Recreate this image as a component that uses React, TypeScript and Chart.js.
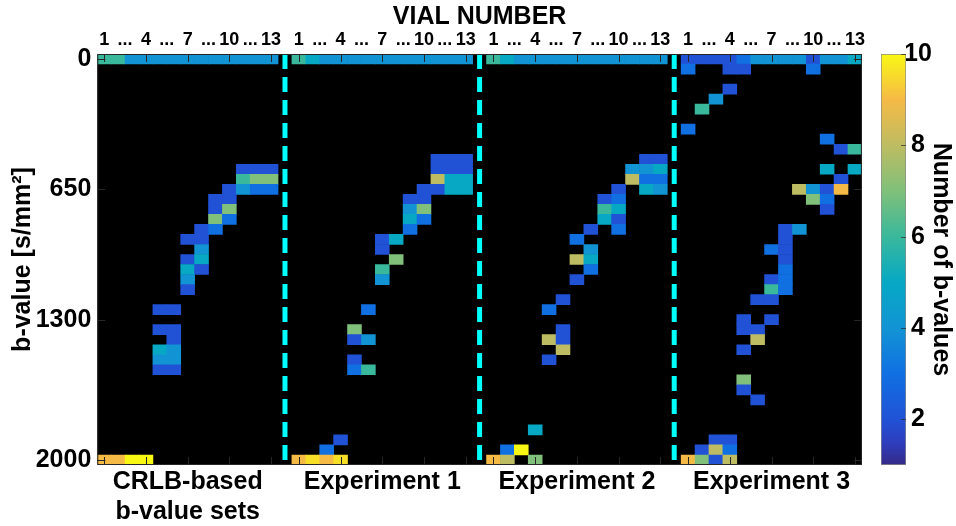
import React, { useEffect, useRef } from 'react';
import { Chart, registerables } from 'chart.js';

Chart.register(...registerables);

// ---------------- data ----------------
const panelLabels: (string | string[])[] = [['CRLB-based', 'b-value sets'], 'Experiment 1', 'Experiment 2', 'Experiment 3'];
const vialCount = 13;
const vialTickLabels = ['1', '...', '4', '...', '7', '...', '10', '...', '13'];
const vialTickPositions = [1, 2.5, 4, 5.5, 7, 8.5, 10, 11.5, 13];
const vialMarkPositions = [1, 4, 7, 10, 13];
const bValueTicks = [0, 650, 1300, 2000];
const bValueBin = 50;
const bValueMin = 0;
const bValueMax = 2000;
const countTicks = [2, 4, 6, 8, 10];
const countMin = 1;
const countMax = 10;

// [vial, b-value, number of b-values]
const crlbCells: number[][] = [
  [1, 0, 6], [2, 0, 6], [3, 0, 4], [4, 0, 4], [5, 0, 4], [6, 0, 4], [7, 0, 4], [8, 0, 4], [9, 0, 4], [10, 0, 4], [11, 0, 4], [12, 0, 4], [13, 0, 4],
  [11, 550, 2], [12, 550, 2], [13, 550, 2],
  [11, 600, 6], [12, 600, 7], [13, 600, 7],
  [10, 650, 2], [11, 650, 4], [12, 650, 3], [13, 650, 3],
  [9, 700, 2], [10, 700, 2],
  [9, 750, 2], [10, 750, 7],
  [9, 800, 7], [10, 800, 3],
  [8, 850, 2], [9, 850, 3],
  [7, 900, 2], [8, 900, 2],
  [8, 950, 4],
  [7, 1000, 2], [8, 1000, 5],
  [7, 1050, 5], [8, 1050, 2],
  [7, 1100, 4],
  [7, 1150, 2],
  [5, 1250, 2], [6, 1250, 2],
  [5, 1350, 2], [6, 1350, 2],
  [6, 1400, 2],
  [5, 1450, 5], [6, 1450, 4],
  [5, 1500, 4], [6, 1500, 4],
  [5, 1550, 2], [6, 1550, 2],
  [1, 2000, 9], [2, 2000, 9], [3, 2000, 10], [4, 2000, 10],
];

const exp1Cells: number[][] = [
  [1, 0, 6], [2, 0, 5], [3, 0, 4], [4, 0, 4], [5, 0, 4], [6, 0, 4], [7, 0, 4], [8, 0, 4], [9, 0, 4], [10, 0, 4], [11, 0, 4], [12, 0, 4], [13, 0, 4],
  [11, 500, 2], [12, 500, 2], [13, 500, 2],
  [11, 550, 2], [12, 550, 2], [13, 550, 2],
  [11, 600, 8], [12, 600, 5], [13, 600, 5],
  [10, 650, 2], [11, 650, 2], [12, 650, 5], [13, 650, 5],
  [9, 700, 2], [10, 700, 2],
  [9, 750, 4], [10, 750, 7],
  [9, 800, 5], [10, 800, 3],
  [9, 850, 3],
  [7, 900, 2], [8, 900, 5],
  [7, 950, 2],
  [8, 1000, 7],
  [7, 1050, 6],
  [7, 1100, 4],
  [6, 1250, 3],
  [5, 1350, 7],
  [5, 1400, 2], [6, 1400, 4],
  [5, 1500, 2],
  [5, 1550, 3], [6, 1550, 6],
  [4, 1900, 2],
  [3, 1950, 3],
  [1, 2000, 9], [2, 2000, 9.6], [3, 2000, 9], [4, 2000, 9.6],
];

const exp2Cells: number[][] = [
  [1, 0, 6], [2, 0, 5], [3, 0, 4], [4, 0, 4], [5, 0, 4], [6, 0, 4], [7, 0, 4], [8, 0, 4], [9, 0, 4], [10, 0, 4], [11, 0, 4], [12, 0, 4], [13, 0, 4],
  [12, 500, 2], [13, 500, 2],
  [11, 550, 4], [12, 550, 4], [13, 550, 5],
  [11, 600, 8], [12, 600, 3], [13, 600, 3],
  [10, 650, 2], [12, 650, 5], [13, 650, 4],
  [9, 700, 2], [10, 700, 3],
  [9, 750, 6], [10, 750, 5],
  [9, 800, 5], [10, 800, 2],
  [8, 850, 2], [10, 850, 3],
  [7, 900, 3],
  [8, 950, 4],
  [7, 1000, 8], [8, 1000, 5],
  [8, 1050, 3],
  [7, 1100, 2],
  [6, 1200, 2],
  [5, 1250, 3],
  [6, 1350, 2],
  [5, 1400, 8], [6, 1400, 2],
  [6, 1450, 8],
  [5, 1500, 2],
  [4, 1850, 5],
  [2, 1950, 3], [3, 1950, 10],
  [1, 2000, 9], [2, 2000, 8], [4, 2000, 7],
];

const exp3Cells: number[][] = [
  [1, 0, 2], [2, 0, 2], [3, 0, 2], [4, 0, 2], [5, 0, 3], [6, 0, 4], [7, 0, 4], [8, 0, 4], [9, 0, 4], [10, 0, 2], [11, 0, 4], [12, 0, 4], [13, 0, 5],
  [1, 50, 3], [4, 50, 2], [5, 50, 2], [10, 50, 3],
  [4, 150, 2],
  [3, 200, 4],
  [2, 250, 6],
  [1, 350, 3],
  [11, 400, 3],
  [12, 450, 2], [13, 450, 6],
  [11, 550, 5], [13, 550, 5],
  [12, 600, 2],
  [9, 650, 8], [10, 650, 4], [11, 650, 2], [12, 650, 9],
  [10, 700, 7], [11, 700, 3],
  [11, 750, 2],
  [8, 850, 2], [9, 850, 4],
  [8, 900, 2],
  [7, 950, 3], [8, 950, 2],
  [8, 1000, 2],
  [8, 1050, 3],
  [7, 1100, 2], [8, 1100, 3],
  [7, 1150, 6], [8, 1150, 3],
  [6, 1200, 2], [7, 1200, 2],
  [5, 1300, 2], [7, 1300, 2],
  [5, 1350, 2], [6, 1350, 2],
  [6, 1400, 8],
  [5, 1450, 2],
  [5, 1600, 7],
  [5, 1650, 2],
  [6, 1700, 2],
  [3, 1900, 2], [4, 1900, 2],
  [2, 1950, 2], [3, 1950, 8], [4, 1950, 3],
  [1, 2000, 9], [2, 2000, 7], [3, 2000, 2], [4, 2000, 8],
];

const panels = [crlbCells, exp1Cells, exp2Cells, exp3Cells];

// ---------------- styling ----------------
const FONT = "'Liberation Sans', Arial, Helvetica, sans-serif";
const bold = (size: number) => ({ family: FONT, size, weight: 'bold' as const });

// parula-like colormap stops [value, rgb]
const colormap: [number, number[]][] = [
  [1, [53, 42, 135]],
  [1.5, [45, 62, 190]],
  [2, [33, 82, 214]],
  [3, [16, 112, 226]],
  [4, [18, 148, 212]],
  [5, [6, 168, 196]],
  [6, [58, 184, 156]],
  [7, [128, 192, 122]],
  [8, [190, 188, 98]],
  [9, [245, 186, 70]],
  [10, [249, 248, 20]],
];

function colorFor(v: number): string {
  if (v <= colormap[0][0]) return `rgb(${colormap[0][1].join(',')})`;
  for (let i = 1; i < colormap.length; i++) {
    const [v1, c1] = colormap[i];
    const [v0, c0] = colormap[i - 1];
    if (v <= v1) {
      const t = (v - v0) / (v1 - v0);
      const c = c0.map((a, k) => Math.round(a + (c1[k] - a) * t));
      return `rgb(${c.join(',')})`;
    }
  }
  return `rgb(${colormap[colormap.length - 1][1].join(',')})`;
}

const colsPerPanel = vialCount + 1; // one spacer column between panels
const totalCols = panels.length * colsPerPanel - 1;
const colOf = (panel: number, vial: number) => panel * colsPerPanel + vial - 1;

export default function App() {
  const mainRef = useRef<HTMLCanvasElement | null>(null);
  const barRef = useRef<HTMLCanvasElement | null>(null);

  useEffect(() => {
    const cells = panels.flatMap((list, p) =>
      list.map(([vial, b, n]) => ({ x: colOf(p, vial), y: [b - bValueBin / 2, b + bValueBin / 2], n }))
    );
    const separators = panels.slice(1).map((_, i) => colOf(i, vialCount + 1));
    const yLo = bValueMin - bValueBin / 2;
    const yHi = bValueMax + bValueBin / 2;

    const topTicks: number[] = [];
    const topLabels: string[] = [];
    panels.forEach((_, p) => {
      vialTickPositions.forEach((v, i) => {
        topTicks.push(colOf(p, v));
        topLabels.push(vialTickLabels[i]);
      });
    });
    const bottomTicks = panels.map((_, p) => colOf(p, (vialCount + 1) / 2));

    const framePlugin = {
      id: 'frame',
      beforeDatasetsDraw(chart: any) {
        const { ctx, chartArea: a } = chart;
        ctx.save();
        ctx.fillStyle = '#000';
        ctx.fillRect(a.left, a.top, a.right - a.left, a.bottom - a.top);
        ctx.restore();
      },
      afterDatasetsDraw(chart: any) {
        const { ctx, chartArea: a, scales } = chart;
        const x = scales.x;
        const y = scales.y;
        ctx.save();
        ctx.strokeStyle = '#262626';
        ctx.lineWidth = 1;
        ctx.beginPath();
        bValueTicks.forEach((b) => {
          const py = Math.round(y.getPixelForValue(b)) + 0.5;
          ctx.moveTo(a.left, py);
          ctx.lineTo(a.left + 8, py);
          ctx.moveTo(a.right - 8, py);
          ctx.lineTo(a.right, py);
        });
        panels.forEach((_, p) => {
          vialMarkPositions.forEach((v) => {
            const px = Math.round(x.getPixelForValue(colOf(p, v))) + 0.5;
            ctx.moveTo(px, a.top);
            ctx.lineTo(px, a.top + 8);
            ctx.moveTo(px, a.bottom - 8);
            ctx.lineTo(px, a.bottom);
          });
        });
        ctx.stroke();
        ctx.strokeRect(a.left + 0.5, a.top + 0.5, a.right - a.left - 1, a.bottom - a.top - 1);
        ctx.restore();
      },
    };

    const main = new Chart(mainRef.current as HTMLCanvasElement, {
      type: 'bar',
      data: {
        datasets: [
          {
            type: 'bar',
            data: cells as any,
            backgroundColor: (ctx: any) => colorFor(ctx.raw ? ctx.raw.n : countMin),
            borderWidth: 0,
            grouped: false,
            barPercentage: 1,
            categoryPercentage: 1,
            order: 2,
            xAxisID: 'x',
            yAxisID: 'y',
          } as any,
          ...separators.map((s) => ({
            type: 'line',
            data: [{ x: s, y: yLo }, { x: s, y: yHi }],
            borderColor: '#00ffff',
            borderWidth: 5,
            borderDash: [15, 8],
            pointRadius: 0,
            order: 1,
            xAxisID: 'x',
            yAxisID: 'y',
          } as any)),
        ],
      },
      options: {
        responsive: false,
        animation: false,
        events: [],
        layout: { padding: { left: 0, right: 5, top: 0, bottom: 0 } },
        plugins: { legend: { display: false }, tooltip: { enabled: false } },
        scales: {
          x: {
            type: 'linear',
            position: 'top',
            offset: false,
            min: -0.5,
            max: totalCols - 0.5,
            afterBuildTicks: (s: any) => { s.ticks = topTicks.map((v) => ({ value: v })); },
            afterFit: (s: any) => { s.height = 54; },
            ticks: {
              autoSkip: false,
              maxRotation: 0,
              minRotation: 0,
              padding: 3,
              color: '#000',
              font: bold(18),
              callback: (_v: any, i: number) => topLabels[i],
            },
            grid: { display: false, drawTicks: false, offset: false },
            border: { display: false },
            title: { display: true, text: 'VIAL NUMBER', color: '#000', font: bold(25), padding: { top: 2, bottom: 0 } },
          },
          x2: {
            type: 'linear',
            position: 'bottom',
            offset: false,
            min: -0.5,
            max: totalCols - 0.5,
            afterBuildTicks: (s: any) => { s.ticks = bottomTicks.map((v) => ({ value: v })); },
            afterFit: (s: any) => { s.height = 61; },
            ticks: {
              autoSkip: false,
              maxRotation: 0,
              minRotation: 0,
              padding: 2,
              color: '#000',
              font: bold(25),
              callback: (_v: any, i: number) => panelLabels[i] as any,
            },
            grid: { display: false, drawTicks: false, offset: false },
            border: { display: false },
          },
          y: {
            type: 'linear',
            reverse: true,
            min: yLo,
            max: yHi,
            afterBuildTicks: (s: any) => { s.ticks = bValueTicks.map((v) => ({ value: v })); },
            afterFit: (s: any) => { s.width = 97.3; },
            ticks: { autoSkip: false, padding: 6, color: '#000', font: bold(25), callback: (v: any) => String(v) },
            grid: { display: false, drawTicks: false },
            border: { display: false },
            title: { display: true, text: 'b-value [s/mm²]', color: '#000', font: bold(25), padding: { top: 8, bottom: 0 } },
          },
        } as any,
      },
      plugins: [framePlugin],
    });

    const barTicksPlugin = {
      id: 'cbticks',
      afterDatasetsDraw(chart: any) {
        const { ctx, chartArea: a, scales } = chart;
        ctx.save();
        ctx.strokeStyle = 'rgba(38,38,38,0.7)';
        ctx.lineWidth = 1;
        ctx.beginPath();
        countTicks.forEach((c) => {
          const py = Math.round(scales.y.getPixelForValue(c)) + 0.5;
          ctx.moveTo(a.right - 5, py);
          ctx.lineTo(a.right, py);
        });
        ctx.stroke();
        ctx.restore();
      },
    };

    const colorbar = new Chart(barRef.current as HTMLCanvasElement, {
      type: 'bar',
      data: {
        labels: [''],
        datasets: [
          {
            data: [[countMin, countMax]] as any,
            backgroundColor: (ctx: any) => {
              const chart = ctx.chart;
              const ys = chart.scales && chart.scales.y;
              if (!chart.chartArea || !ys) return '#888';
              const g = chart.ctx.createLinearGradient(0, ys.getPixelForValue(countMin), 0, ys.getPixelForValue(countMax));
              colormap.forEach(([v, c]) => g.addColorStop((v - countMin) / (countMax - countMin), `rgb(${c.join(',')})`));
              return g;
            },
            borderColor: '#8a8a8a',
            borderWidth: 1,
            borderSkipped: false,
            barPercentage: 1,
            categoryPercentage: 1,
          } as any,
        ],
      },
      options: {
        responsive: false,
        animation: false,
        events: [],
        layout: { padding: { left: 21, right: 0, top: 54, bottom: 61 } },
        plugins: { legend: { display: false }, tooltip: { enabled: false } },
        scales: {
          x: { display: false },
          y: {
            position: 'right',
            min: countMin,
            max: countMax,
            afterBuildTicks: (s: any) => { s.ticks = countTicks.map((v) => ({ value: v })); },
            afterFit: (s: any) => { s.width = 50; },
            ticks: { autoSkip: false, padding: -2, crossAlign: 'center', color: '#000', font: bold(25) },
            grid: { display: false, drawTicks: false },
            border: { display: false },
            title: { display: true, text: 'Number of b-values', color: '#000', font: bold(25), padding: { top: 0, bottom: 0 } },
          },
        } as any,
      },
      plugins: [barTicksPlugin],
    });

    return () => {
      main.destroy();
      colorbar.destroy();
    };
  }, []);

  return (
    <div style={{ position: 'absolute', left: 0, top: 0, width: 956, height: 526, background: '#fff', overflow: 'hidden' }}>
      <canvas ref={mainRef} width={868} height={526} style={{ position: 'absolute', left: 0, top: 0, width: 868, height: 526 }} />
      <canvas ref={barRef} width={96} height={526} style={{ position: 'absolute', left: 860, top: 0, width: 96, height: 526 }} />
    </div>
  );
}
